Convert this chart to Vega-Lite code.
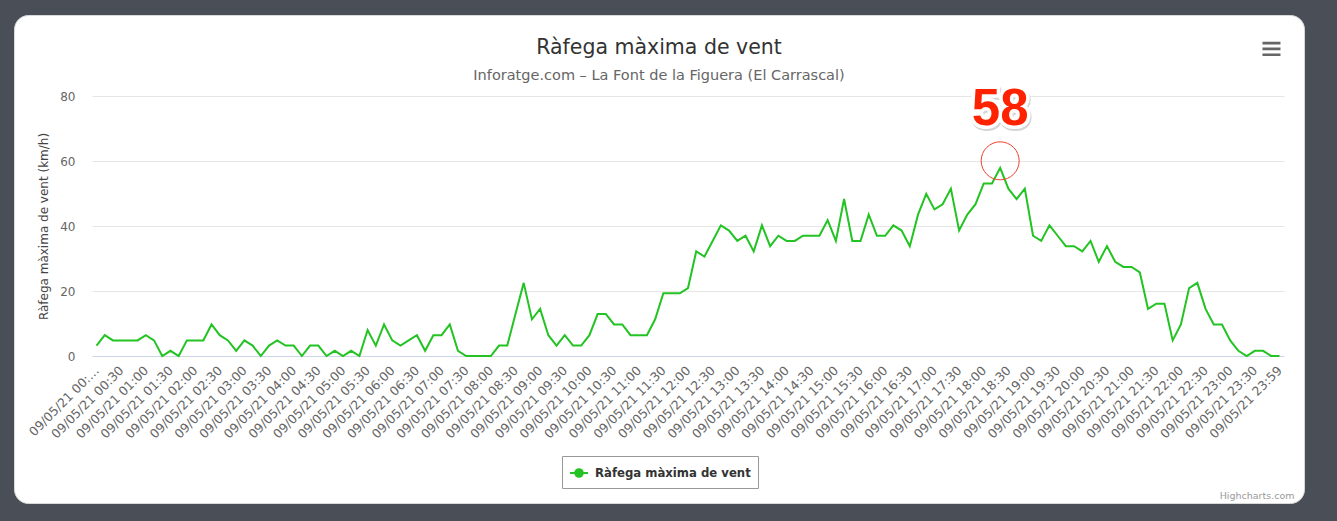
{
  "$schema": "https://vega.github.io/schema/vega-lite/v6.json",
  "width": 1290,
  "height": 488,
  "autosize": {"type": "none"},
  "padding": {"left": 14, "top": 15, "right": 33, "bottom": 18},
  "background": "#4a4e57",
  "config": {
    "view": {"fill": "#ffffff", "stroke": "#d9d9d9", "cornerRadius": 14},
    "font": "DejaVu Sans"
  },
  "title": {
    "text": "Ràfega màxima de vent",
    "subtitle": "Inforatge.com – La Font de la Figuera (El Carrascal)",
    "anchor": "middle",
    "frame": "group",
    "font": "DejaVu Sans",
    "fontSize": 20.5,
    "fontWeight": "normal",
    "color": "#333333",
    "subtitleFont": "DejaVu Sans",
    "subtitleFontSize": 14.5,
    "subtitleColor": "#666666",
    "subtitlePadding": 10,
    "offset": -67
  },
  "data": {
    "values": [
      {"t": "09/05/21 00:00", "v": 3.2}, {"t": "09/05/21 00:10", "v": 6.4}, {"t": "09/05/21 00:20", "v": 4.8},
      {"t": "09/05/21 00:30", "v": 4.8}, {"t": "09/05/21 00:40", "v": 4.8}, {"t": "09/05/21 00:50", "v": 4.8},
      {"t": "09/05/21 01:00", "v": 6.4}, {"t": "09/05/21 01:10", "v": 4.8}, {"t": "09/05/21 01:20", "v": 0},
      {"t": "09/05/21 01:30", "v": 1.6}, {"t": "09/05/21 01:40", "v": 0}, {"t": "09/05/21 01:50", "v": 4.8},
      {"t": "09/05/21 02:00", "v": 4.8}, {"t": "09/05/21 02:10", "v": 4.8}, {"t": "09/05/21 02:20", "v": 9.7},
      {"t": "09/05/21 02:30", "v": 6.4}, {"t": "09/05/21 02:40", "v": 4.8}, {"t": "09/05/21 02:50", "v": 1.6},
      {"t": "09/05/21 03:00", "v": 4.8}, {"t": "09/05/21 03:10", "v": 3.2}, {"t": "09/05/21 03:20", "v": 0},
      {"t": "09/05/21 03:30", "v": 3.2}, {"t": "09/05/21 03:40", "v": 4.8}, {"t": "09/05/21 03:50", "v": 3.2},
      {"t": "09/05/21 04:00", "v": 3.2}, {"t": "09/05/21 04:10", "v": 0}, {"t": "09/05/21 04:20", "v": 3.2},
      {"t": "09/05/21 04:30", "v": 3.2}, {"t": "09/05/21 04:40", "v": 0}, {"t": "09/05/21 04:50", "v": 1.6},
      {"t": "09/05/21 05:00", "v": 0}, {"t": "09/05/21 05:10", "v": 1.6}, {"t": "09/05/21 05:20", "v": 0},
      {"t": "09/05/21 05:30", "v": 8.0}, {"t": "09/05/21 05:40", "v": 3.2}, {"t": "09/05/21 05:50", "v": 9.7},
      {"t": "09/05/21 06:00", "v": 4.8}, {"t": "09/05/21 06:10", "v": 3.2}, {"t": "09/05/21 06:20", "v": 4.8},
      {"t": "09/05/21 06:30", "v": 6.4}, {"t": "09/05/21 06:40", "v": 1.6}, {"t": "09/05/21 06:50", "v": 6.4},
      {"t": "09/05/21 07:00", "v": 6.4}, {"t": "09/05/21 07:10", "v": 9.7}, {"t": "09/05/21 07:20", "v": 1.6},
      {"t": "09/05/21 07:30", "v": 0}, {"t": "09/05/21 07:40", "v": 0}, {"t": "09/05/21 07:50", "v": 0},
      {"t": "09/05/21 08:00", "v": 0}, {"t": "09/05/21 08:10", "v": 3.2}, {"t": "09/05/21 08:20", "v": 3.2},
      {"t": "09/05/21 08:30", "v": 12.9}, {"t": "09/05/21 08:40", "v": 22.5}, {"t": "09/05/21 08:50", "v": 11.3},
      {"t": "09/05/21 09:00", "v": 14.5}, {"t": "09/05/21 09:10", "v": 6.4}, {"t": "09/05/21 09:20", "v": 3.2},
      {"t": "09/05/21 09:30", "v": 6.4}, {"t": "09/05/21 09:40", "v": 3.2}, {"t": "09/05/21 09:50", "v": 3.2},
      {"t": "09/05/21 10:00", "v": 6.4}, {"t": "09/05/21 10:10", "v": 12.9}, {"t": "09/05/21 10:20", "v": 12.9},
      {"t": "09/05/21 10:30", "v": 9.7}, {"t": "09/05/21 10:40", "v": 9.7}, {"t": "09/05/21 10:50", "v": 6.4},
      {"t": "09/05/21 11:00", "v": 6.4}, {"t": "09/05/21 11:10", "v": 6.4}, {"t": "09/05/21 11:20", "v": 11.3},
      {"t": "09/05/21 11:30", "v": 19.3}, {"t": "09/05/21 11:40", "v": 19.3}, {"t": "09/05/21 11:50", "v": 19.3},
      {"t": "09/05/21 12:00", "v": 20.9}, {"t": "09/05/21 12:10", "v": 32.2}, {"t": "09/05/21 12:20", "v": 30.6},
      {"t": "09/05/21 12:30", "v": 35.4}, {"t": "09/05/21 12:40", "v": 40.2}, {"t": "09/05/21 12:50", "v": 38.6},
      {"t": "09/05/21 13:00", "v": 35.4}, {"t": "09/05/21 13:10", "v": 37.0}, {"t": "09/05/21 13:20", "v": 32.2},
      {"t": "09/05/21 13:30", "v": 40.2}, {"t": "09/05/21 13:40", "v": 33.8}, {"t": "09/05/21 13:50", "v": 37.0},
      {"t": "09/05/21 14:00", "v": 35.4}, {"t": "09/05/21 14:10", "v": 35.4}, {"t": "09/05/21 14:20", "v": 37.0},
      {"t": "09/05/21 14:30", "v": 37.0}, {"t": "09/05/21 14:40", "v": 37.0}, {"t": "09/05/21 14:50", "v": 41.8},
      {"t": "09/05/21 15:00", "v": 35.4}, {"t": "09/05/21 15:10", "v": 48.3}, {"t": "09/05/21 15:20", "v": 35.4},
      {"t": "09/05/21 15:30", "v": 35.4}, {"t": "09/05/21 15:40", "v": 43.5}, {"t": "09/05/21 15:50", "v": 37.0},
      {"t": "09/05/21 16:00", "v": 37.0}, {"t": "09/05/21 16:10", "v": 40.2}, {"t": "09/05/21 16:20", "v": 38.6},
      {"t": "09/05/21 16:30", "v": 33.8}, {"t": "09/05/21 16:40", "v": 43.5}, {"t": "09/05/21 16:50", "v": 49.9},
      {"t": "09/05/21 17:00", "v": 45.1}, {"t": "09/05/21 17:10", "v": 46.7}, {"t": "09/05/21 17:20", "v": 51.5},
      {"t": "09/05/21 17:30", "v": 38.6}, {"t": "09/05/21 17:40", "v": 43.5}, {"t": "09/05/21 17:50", "v": 46.7},
      {"t": "09/05/21 18:00", "v": 53.1}, {"t": "09/05/21 18:10", "v": 53.1}, {"t": "09/05/21 18:20", "v": 57.9},
      {"t": "09/05/21 18:30", "v": 51.5}, {"t": "09/05/21 18:40", "v": 48.3}, {"t": "09/05/21 18:50", "v": 51.5},
      {"t": "09/05/21 19:00", "v": 37.0}, {"t": "09/05/21 19:10", "v": 35.4}, {"t": "09/05/21 19:20", "v": 40.2},
      {"t": "09/05/21 19:30", "v": 37.0}, {"t": "09/05/21 19:40", "v": 33.8}, {"t": "09/05/21 19:50", "v": 33.8},
      {"t": "09/05/21 20:00", "v": 32.2}, {"t": "09/05/21 20:10", "v": 35.4}, {"t": "09/05/21 20:20", "v": 29.0},
      {"t": "09/05/21 20:30", "v": 33.8}, {"t": "09/05/21 20:40", "v": 29.0}, {"t": "09/05/21 20:50", "v": 27.4},
      {"t": "09/05/21 21:00", "v": 27.4}, {"t": "09/05/21 21:10", "v": 25.7}, {"t": "09/05/21 21:20", "v": 14.5},
      {"t": "09/05/21 21:30", "v": 16.1}, {"t": "09/05/21 21:40", "v": 16.1}, {"t": "09/05/21 21:50", "v": 4.8},
      {"t": "09/05/21 22:00", "v": 9.7}, {"t": "09/05/21 22:10", "v": 20.9}, {"t": "09/05/21 22:20", "v": 22.5},
      {"t": "09/05/21 22:30", "v": 14.5}, {"t": "09/05/21 22:40", "v": 9.7}, {"t": "09/05/21 22:50", "v": 9.7},
      {"t": "09/05/21 23:00", "v": 4.8}, {"t": "09/05/21 23:10", "v": 1.6}, {"t": "09/05/21 23:20", "v": 0},
      {"t": "09/05/21 23:30", "v": 1.6}, {"t": "09/05/21 23:40", "v": 1.6}, {"t": "09/05/21 23:50", "v": 0},
      {"t": "09/05/21 23:59", "v": 0}
    ]
  },
  "encoding": {
    "x": {
      "field": "t",
      "type": "ordinal",
      "sort": null,
      "scale": {"type": "point", "range": [78, 1270], "padding": 0.55},
      "axis": {
        "values": ["09/05/21 00:00", "09/05/21 00:30", "09/05/21 01:00", "09/05/21 01:30", "09/05/21 02:00", "09/05/21 02:30", "09/05/21 03:00", "09/05/21 03:30", "09/05/21 04:00", "09/05/21 04:30", "09/05/21 05:00", "09/05/21 05:30", "09/05/21 06:00", "09/05/21 06:30", "09/05/21 07:00", "09/05/21 07:30", "09/05/21 08:00", "09/05/21 08:30", "09/05/21 09:00", "09/05/21 09:30", "09/05/21 10:00", "09/05/21 10:30", "09/05/21 11:00", "09/05/21 11:30", "09/05/21 12:00", "09/05/21 12:30", "09/05/21 13:00", "09/05/21 13:30", "09/05/21 14:00", "09/05/21 14:30", "09/05/21 15:00", "09/05/21 15:30", "09/05/21 16:00", "09/05/21 16:30", "09/05/21 17:00", "09/05/21 17:30", "09/05/21 18:00", "09/05/21 18:30", "09/05/21 19:00", "09/05/21 19:30", "09/05/21 20:00", "09/05/21 20:30", "09/05/21 21:00", "09/05/21 21:30", "09/05/21 22:00", "09/05/21 22:30", "09/05/21 23:00", "09/05/21 23:30", "09/05/21 23:59"],
        "labelExpr": "datum.value === '09/05/21 00:00' ? '09/05/21 00:…' : datum.label",
        "labelAngle": -45,
        "labelAlign": "right",
        "labelBaseline": "middle",
        "labelPadding": 12,
        "labelFont": "DejaVu Sans",
        "labelFontSize": 12.5,
        "labelColor": "#666666",
        "labelOverlap": false,
        "ticks": false,
        "tickSize": 0,
        "domain": true,
        "domainColor": "#ccd6eb",
        "domainWidth": 1,
        "grid": false,
        "offset": -147,
        "title": "Highcharts.com",
        "titleFont": "DejaVu Sans",
        "titleFontSize": 9.5,
        "titleFontWeight": "normal",
        "titleColor": "#999999",
        "titleX": 1280,
        "titleY": 142,
        "titleAlign": "right",
        "titleBaseline": "alphabetic"
      }
    },
    "y": {
      "field": "v",
      "type": "quantitative",
      "scale": {"domain": [0, 80], "range": [341, 81], "nice": false},
      "axis": {
        "values": [0, 20, 40, 60, 80],
        "offset": -78,
        "domain": false,
        "ticks": false,
        "tickSize": 0,
        "labelPadding": 17,
        "labelFont": "DejaVu Sans",
        "labelFontSize": 12,
        "labelColor": "#666666",
        "grid": true,
        "gridColor": "#e6e6e6",
        "gridWidth": 1,
        "title": "Ràfega màxima de vent (km/h)",
        "titleFont": "DejaVu Sans",
        "titleFontSize": 12,
        "titleFontWeight": "normal",
        "titleColor": "#444444",
        "titlePadding": 9
      }
    }
  },
  "layer": [
    {
      "mark": {"type": "line", "strokeWidth": 2},
      "encoding": {
        "color": {
          "datum": "Ràfega màxima de vent",
          "type": "nominal",
          "scale": {"range": ["#22c322"]},
          "legend": {
            "orient": "none",
            "legendX": 548,
            "legendY": 441,
            "title": null,
            "direction": "horizontal",
            "strokeColor": "#999999",
            "fillColor": "#ffffff",
            "padding": 7,
            "cornerRadius": 0,
            "symbolType": "M-1,0H1M-0.42,0A0.42,0.42,0,1,1,0.42,0A0.42,0.42,0,1,1,-0.42,0Z",
            "symbolSize": 324,
            "symbolStrokeWidth": 2,
            "symbolFillColor": "#22c322",
            "symbolStrokeColor": "#22c322",
            "labelFont": "DejaVu Sans",
            "labelFontSize": 11.7,
            "labelFontWeight": "bold",
            "labelColor": "#333333",
            "labelOffset": 6
          }
        }
      }
    },
    {
      "transform": [{"filter": "datum.t === '09/05/21 18:20'"}],
      "mark": {"type": "point", "shape": "circle", "filled": false, "color": "#f0402e", "strokeWidth": 1, "size": 1444, "yOffset": -7, "opacity": 1}
    },
    {
      "transform": [{"filter": "datum.t === '09/05/21 18:20'"}],
      "mark": {"type": "text", "font": "Liberation Sans", "fontSize": 51, "fontWeight": "bold", "align": "center", "baseline": "alphabetic", "dx": 1, "dy": -41, "fill": "#d4d4d4", "stroke": "#d4d4d4", "strokeWidth": 7},
      "encoding": {"text": {"field": "v", "type": "quantitative", "format": ".0f"}}
    },
    {
      "transform": [{"filter": "datum.t === '09/05/21 18:20'"}],
      "mark": {"type": "text", "font": "Liberation Sans", "fontSize": 51, "fontWeight": "bold", "align": "center", "baseline": "alphabetic", "dy": -42.5, "fill": "#ffffff", "stroke": "#ffffff", "strokeWidth": 7},
      "encoding": {"text": {"field": "v", "type": "quantitative", "format": ".0f"}}
    },
    {
      "transform": [{"filter": "datum.t === '09/05/21 18:20'"}],
      "mark": {"type": "text", "font": "Liberation Sans", "fontSize": 51, "fontWeight": "bold", "align": "center", "baseline": "alphabetic", "dy": -42.5, "fill": "#ff2200"},
      "encoding": {"text": {"field": "v", "type": "quantitative", "format": ".0f"}}
    },
    {
      "transform": [{"filter": "datum.t === '09/05/21 23:59'"}],
      "mark": {"type": "point", "shape": "M-1,-0.78H1V-0.5H-1Z M-1,-0.14H1V0.14H-1Z M-1,0.5H1V0.78H-1Z", "filled": true, "color": "#666666", "size": 324, "xOffset": -8, "opacity": 1},
      "encoding": {"y": {"datum": 94.5, "type": "quantitative"}}
    }
  ]
}
